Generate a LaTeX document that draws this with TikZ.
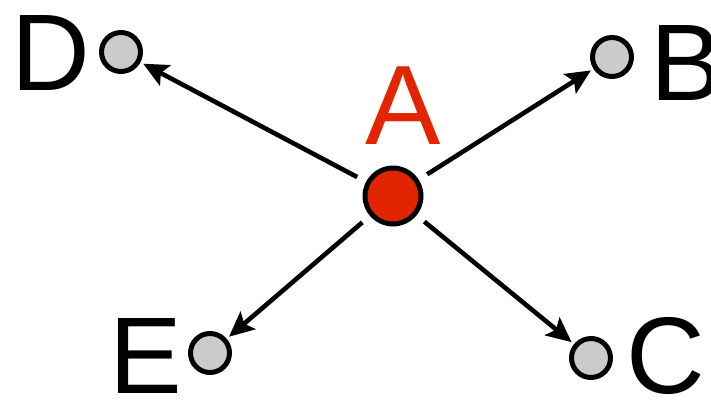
\documentclass[tikz,border=0pt]{standalone}
\usepackage{fontspec}
\setmainfont{Liberation Sans}
\usetikzlibrary{arrows.meta}
\definecolor{ared}{HTML}{E32400}
\definecolor{agray}{HTML}{CBCBCB}
\begin{document}
\begin{tikzpicture}[x=1pt,y=-1pt,
  small/.style={circle,draw=black,line width=5pt,fill=agray,minimum size=39pt,inner sep=0pt},
  big/.style={circle,draw=black,line width=5pt,fill=ared,minimum size=56pt,inner sep=0pt},
  lbl/.style={font=\fontsize{109}{109}\selectfont,inner sep=0pt,anchor=base},
  arr/.style={line width=4.6pt,-{Stealth[length=25pt,width=23pt,inset=5pt]},shorten <=10pt,shorten >=3pt}]
\useasboundingbox (0,0) rectangle (711,400);
\node[big] (A) at (393,196) {};
\node[small] (D) at (121,52) {};
\node[small] (B) at (612,57) {};
\node[small] (E) at (210,353) {};
\node[small] (C) at (591,358) {};
\node[lbl] (lD) at (50.5,90) {D};
\node[lbl] (lB) at (687,100) {B};
\node[lbl] (lE) at (146,393) {E};
\node[lbl] (lC) at (666,393) {C};
\node[lbl,text=ared,font=\fontsize{113}{113}\selectfont] (lA) at (403,144) {A};
\draw[arr] (A) -- (D);
\draw[arr] (A) -- (B);
\draw[arr] (A) -- (E);
\draw[arr] (A) -- (C);
\end{tikzpicture}
\end{document}
